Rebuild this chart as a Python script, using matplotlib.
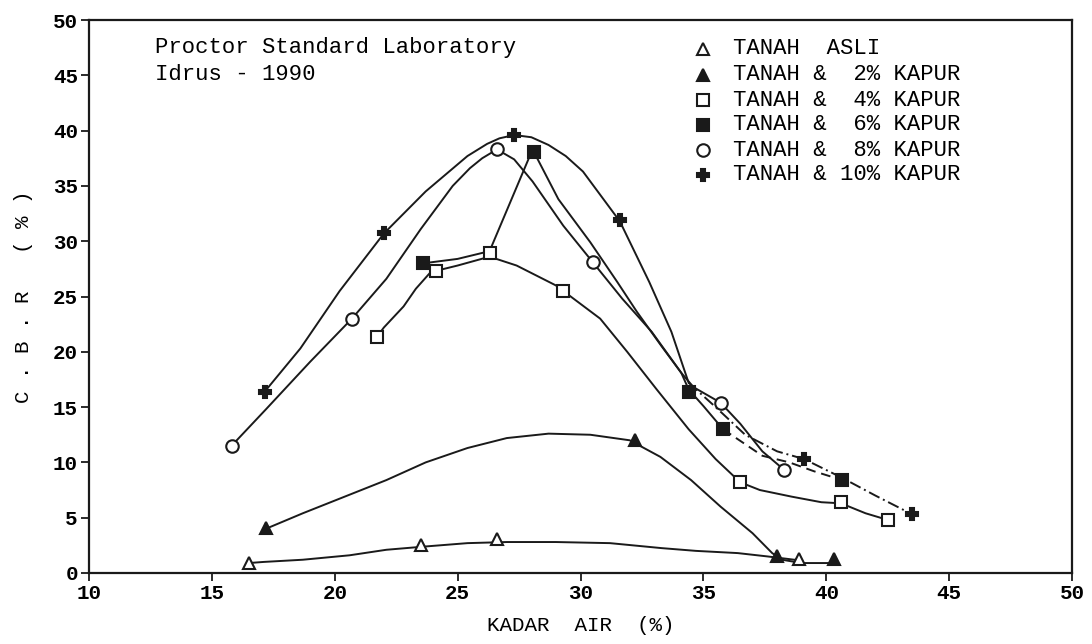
import matplotlib
matplotlib.use("Agg")
import matplotlib.pyplot as plt

# ---------------- data ----------------
x_ticks = [10, 15, 20, 25, 30, 35, 40, 45, 50]
y_ticks = [0, 5, 10, 15, 20, 25, 30, 35, 40, 45, 50]

labels = ["TANAH  ASLI", "TANAH &  2% KAPUR", "TANAH &  4% KAPUR",
          "TANAH &  6% KAPUR", "TANAH &  8% KAPUR", "TANAH & 10% KAPUR"]

# measured points (markers)
asli_x = [16.5, 23.5, 26.6, 38.9]
asli_y = [0.9, 2.5, 3.1, 1.3]
k2_x = [17.2, 32.2, 38.0, 40.3]
k2_y = [4.1, 12.0, 1.5, 1.3]
k4_x = [21.7, 24.1, 26.3, 29.3, 36.5, 40.6, 42.5]
k4_y = [21.3, 27.3, 28.9, 25.5, 8.2, 6.4, 4.8]
k6_x = [23.6, 28.1, 34.4, 35.8, 40.65]
k6_y = [28.0, 38.1, 16.4, 13.0, 8.4]
k8_x = [15.8, 20.7, 26.6, 30.5, 35.7, 38.3]
k8_y = [11.5, 23.0, 38.3, 28.1, 15.4, 9.3]
k10_x = [17.15, 22.0, 27.3, 31.6, 39.1, 43.5]
k10_y = [16.4, 30.7, 39.6, 31.9, 10.3, 5.3]

# drawn curves
asli_cx = [16.5, 17.1, 18.7, 20.6, 22.1, 23.7, 25.4, 27.0, 29.0, 31.2, 33.3, 34.7, 36.4, 37.6, 38.7, 38.9]
asli_cy = [0.9, 1.0, 1.2, 1.6, 2.1, 2.4, 2.7, 2.8, 2.8, 2.7, 2.25, 2.0, 1.8, 1.5, 1.2, 1.2]
k2_cx = [17.2, 18.7, 20.4, 22.1, 23.7, 25.4, 27.0, 28.7, 30.4, 32.0, 33.25, 34.5, 35.7, 37.0, 37.8, 38.2, 39.0, 40.3]
k2_cy = [4.0, 5.4, 6.9, 8.4, 10.0, 11.3, 12.2, 12.6, 12.5, 12.0, 10.5, 8.4, 6.0, 3.6, 1.8, 1.2, 0.9, 0.9]
k4_cx = [21.7, 22.0, 22.8, 23.3, 23.9, 25.0, 26.3, 27.4, 29.0, 30.8, 31.9, 33.1, 34.4, 35.5, 36.5, 37.3, 38.6, 39.8, 40.6, 41.6, 42.5]
k4_cy = [21.3, 22.2, 24.1, 25.7, 27.2, 27.8, 28.6, 27.8, 26.0, 23.0, 20.0, 16.6, 13.0, 10.3, 8.2, 7.5, 6.9, 6.4, 6.3, 5.4, 4.8]
k6_cx = [23.6, 25.0, 26.3, 28.05, 29.1, 30.4, 31.5, 32.3, 33.3, 34.1, 34.4, 35.0, 35.8]
k6_cy = [28.0, 28.4, 29.1, 38.3, 33.8, 29.9, 26.3, 23.6, 20.5, 18.1, 16.6, 15.1, 13.0]
k6_tx = [35.8, 36.6, 37.4, 38.5, 39.5, 40.65]
k6_ty = [13.0, 11.8, 10.6, 10.0, 9.2, 8.4]
k8_cx = [15.8, 17.2, 19.0, 20.7, 22.1, 23.5, 24.8, 25.5, 26.0, 26.6, 27.3, 28.05, 29.3, 30.5, 31.7, 32.9, 34.1, 34.6, 35.7, 36.5, 37.4, 38.3]
k8_cy = [11.5, 14.8, 19.1, 23.0, 26.6, 31.1, 35.0, 36.6, 37.5, 38.3, 37.4, 35.4, 31.4, 28.1, 24.8, 21.8, 18.1, 16.8, 15.4, 13.5, 11.0, 9.3]
k10_cx = [17.15, 18.6, 20.2, 22.0, 23.7, 25.4, 26.2, 26.7, 27.3, 28.0, 28.7, 29.4, 30.1, 31.6, 32.8, 33.7, 34.4]
k10_cy = [16.4, 20.3, 25.5, 30.7, 34.5, 37.7, 38.8, 39.3, 39.6, 39.4, 38.7, 37.7, 36.3, 31.8, 26.3, 21.8, 17.2]
k10_tx = [34.4, 35.5, 36.7, 38.0, 39.1, 40.65, 42.0, 43.5]
k10_ty = [17.2, 15.0, 12.5, 11.0, 10.3, 8.6, 7.0, 5.3]

# ---------------- figure ----------------
W, H = 1092, 644
fig = plt.figure(figsize=(W / 100, H / 100), dpi=100)
ax = fig.add_axes([89 / W, 1 - 573 / H, (1072 - 89) / W, (573 - 20) / H])

mono = "Liberation Mono"
lc = "#1a1a1a"
lw = 1.4

ax.plot(asli_cx, asli_cy, color=lc, lw=lw)
ax.plot(k2_cx, k2_cy, color=lc, lw=lw)
ax.plot(k4_cx, k4_cy, color=lc, lw=lw)
ax.plot(k6_cx, k6_cy, color=lc, lw=lw)
ax.plot(k6_tx, k6_ty, color=lc, lw=lw, ls=(0, (5, 3)))
ax.plot(k8_cx, k8_cy, color=lc, lw=lw)
ax.plot(k10_cx, k10_cy, color=lc, lw=lw)
ax.plot(k10_tx, k10_ty, color=lc, lw=lw, ls=(0, (6, 2, 1, 2)))

ms = 9
styles = [
    dict(marker="^", mfc="white", mec=lc),
    dict(marker="^", mfc=lc, mec=lc),
    dict(marker="s", mfc="white", mec=lc),
    dict(marker="s", mfc=lc, mec=lc),
    dict(marker="o", mfc="white", mec=lc),
    dict(marker="P", mfc=lc, mec=lc),
]
series = [(asli_x, asli_y), (k2_x, k2_y), (k4_x, k4_y),
          (k6_x, k6_y), (k8_x, k8_y), (k10_x, k10_y)]
for (sx, sy), st in zip(series, styles):
    ax.plot(sx, sy, ls="none", ms=ms, mew=1.5, zorder=5, **st)

ax.set_xlim(10, 50)
ax.set_ylim(0, 50)
ax.set_xticks(x_ticks)
ax.set_yticks(y_ticks)
ax.set_xticklabels([str(v) for v in x_ticks], fontfamily=mono, fontweight="bold", fontsize=15)
ax.set_yticklabels([str(v) for v in y_ticks], fontfamily=mono, fontweight="bold", fontsize=15)
ax.tick_params(axis="both", direction="out", length=6, width=1.3, color=lc, pad=2)
for s in ax.spines.values():
    s.set_linewidth(1.6)
    s.set_color(lc)

ax.set_xlabel("KADAR  AIR  (%)", fontfamily=mono, fontsize=15, labelpad=9)
ax.set_ylabel("C . B . R   ( % )", fontfamily=mono, fontsize=15, labelpad=14)

# annotation (pixel positions -> figure fraction)
def fx(px):
    return px / W

def fy(py):
    return 1 - py / H

fig.text(fx(155), fy(48), "Proctor Standard Laboratory", fontfamily=mono,
         fontsize=16, va="center", ha="left")
fig.text(fx(155), fy(75), "Idrus - 1990", fontfamily=mono,
         fontsize=16, va="center", ha="left")

# legend drawn like the original (symbol column + text column)
rows = [49, 75, 100, 125, 150, 175]
for r, lab, st in zip(rows, labels, styles):
    fig.lines.append(matplotlib.lines.Line2D([fx(703)], [fy(r)], transform=fig.transFigure,
                                             ls="none", ms=ms, mew=1.5, **st))
    fig.text(fx(733), fy(r), lab, fontfamily=mono, fontsize=16, va="center", ha="left")

fig.savefig("out.png", dpi=100)
